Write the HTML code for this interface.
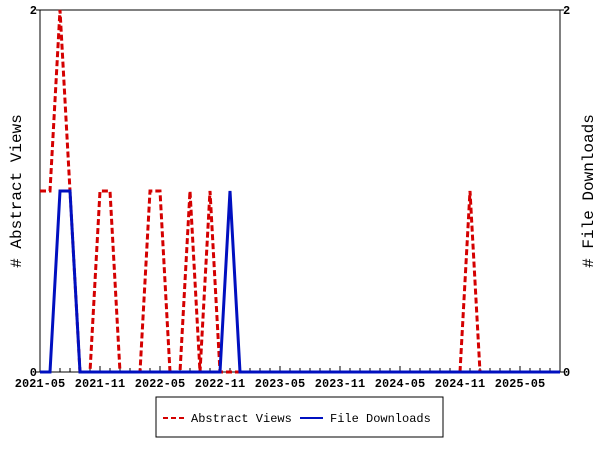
<!DOCTYPE html>
<html><head><meta charset="utf-8"><style>
body{margin:0;background:#fff;}
svg{display:block;font-family:"Liberation Mono","DejaVu Sans Mono",monospace;}
</style></head><body>
<svg id="c" width="600" height="450">
<rect x="0" y="0" width="600" height="450" fill="#fff"/>
<g id="axes"></g>
<g id="series"></g>
<g>
<rect x="156" y="397" width="287" height="40" fill="#fff" stroke="#000"/>
<line x1="163" y1="418" x2="186" y2="418" stroke="#d40000" stroke-width="2" stroke-dasharray="5,3"/>
<text x="191" y="422" font-size="12">Abstract Views</text>
<line x1="300" y1="418" x2="323" y2="418" stroke="#0010c0" stroke-width="2"/>
<text x="330" y="422" font-size="12">File Downloads</text>
</g>
<text transform="translate(21,191) rotate(-90)" text-anchor="middle" font-size="16"># Abstract Views</text>
<text transform="translate(593,191) rotate(-90)" text-anchor="middle" font-size="16"># File Downloads</text>
</svg>
<script>
const startYear = 2021, startMonth = 5, nMonths = 53;
const abstractViews = [1,1,2,1,0,0,1,1,0,0,0,1,1,0,0,1,0,1,0,0,0,0,0,0,0,0,0,0,0,0,0,0,0,0,0,0,0,0,0,0,0,0,0,1,0,0,0,0,0,0,0,0,0];
const fileDownloads = [0,0,1,1,0,0,0,0,0,0,0,0,0,0,0,0,0,0,0,1,0,0,0,0,0,0,0,0,0,0,0,0,0,0,0,0,0,0,0,0,0,0,0,0,0,0,0,0,0,0,0,0,0];
const xTickLabels = ["2021-05","2021-11","2022-05","2022-11","2023-05","2023-11","2024-05","2024-11","2025-05"];
const yMax = 2;
const L=40,R=560,T=10,B=372;
const NS="http://www.w3.org/2000/svg";
function xs(i){return L+(R-L)*i/(nMonths-1);}
function ys(v){return B-(B-T)*v/yMax;}
function mk(tag,attrs,parent,text){const e=document.createElementNS(NS,tag);for(const k in attrs)e.setAttribute(k,attrs[k]);if(text!==undefined)e.textContent=text;parent.appendChild(e);return e;}
const ax=document.getElementById('axes');
const frame=mk('rect',{x:L,y:T,width:R-L,height:B-T,fill:'none',stroke:'#000'},ax);


for(let i=0;i<nMonths;i++){
  const major=(i%6===0);
  const t=mk('line',{x1:xs(i),x2:xs(i),y1:B,y2:B-(major?6:4),stroke:'#000'},ax);
  
  
}
xTickLabels.forEach((lab,k)=>{
  const tx=mk('text',{x:xs(k*6),y:B+15,'text-anchor':'middle','font-size':12,'font-weight':'bold'},ax,lab);
  
  
});
[0,yMax].forEach(v=>{
  const a=mk('text',{x:L-3,y:ys(v)+4,'text-anchor':'end','font-size':12,'font-weight':'bold'},ax,String(v));
  
  
  const b=mk('text',{x:R+3,y:ys(v)+4,'text-anchor':'start','font-size':12,'font-weight':'bold'},ax,String(v));
  
  
  mk('line',{x1:L-4,x2:L,y1:ys(v),y2:ys(v),stroke:'#000'},ax);
  mk('line',{x1:R,x2:R+4,y1:ys(v),y2:ys(v),stroke:'#000'},ax);
});
const sg=document.getElementById('series');
const p2=mk('polyline',{points:abstractViews.map((v,i)=>xs(i)+','+ys(v)).join(' '),fill:'none',stroke:'#d40000','stroke-width':3,'stroke-dasharray':'6,3'},sg);


const p1=mk('polyline',{points:fileDownloads.map((v,i)=>xs(i)+','+ys(v)).join(' '),fill:'none',stroke:'#0010c0','stroke-width':3},sg);


</script>
</body></html>
